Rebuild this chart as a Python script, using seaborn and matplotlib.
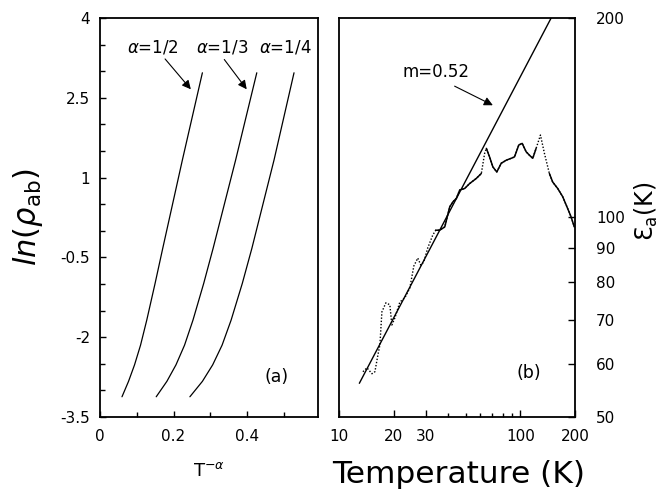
import numpy as np
import pandas as pd
import matplotlib
matplotlib.use("Agg")
import matplotlib.pyplot as plt
import matplotlib.ticker as mticker
import seaborn as sns

# ln(rho_ab) against temperature; the same curve is drawn against T^-alpha
temp_rho = [12.90, 19.93, 34.36, 44.6, 61.9, 82.3, 113.4, 166.2, 280.0]
ln_rho = [2.97, 1.33, -0.33, -0.99, -1.68, -2.15, -2.52, -2.83, -3.12]
alphas = [1 / 2, 1 / 3, 1 / 4]
alpha_labels = [r"$\alpha$=1/2", r"$\alpha$=1/3", r"$\alpha$=1/4"]

# activation energy eps_a(T)
temp_eps = [13.50, 14.21, 15.14, 15.72, 16.33, 16.75, 17.18, 18.07, 19.01, 19.50,
            20.26, 21.58, 22.99, 24.50, 25.77, 27.11, 28.16, 29.25, 30.77, 32.80,
            34.07, 35.8, 38.2, 40.7, 42.4, 44.3, 46.2, 49.2, 52.4, 57.0,
            60.8, 63.4, 64.8, 67.5, 70.4, 74.0, 78.3, 83.5, 88.9, 92.7,
            97.9, 102.2, 107.5, 112.1, 116.9, 122.0, 128.9, 135.6, 144.4, 150.6,
            160.5, 171.0, 182.1, 190.1, 198.2]
eps_a = [58.5, 59.3, 58.1, 58.5, 62.0, 64.2, 72.0, 74.3, 73.8, 68.8,
         70.5, 74.5, 75.6, 78.2, 84.4, 86.8, 84.7, 85.6, 89.9, 94.0,
         95.6, 95.6, 96.7, 103.7, 105.5, 106.8, 109.9, 110.5, 112.4, 114.4,
         116.4, 124.8, 127.0, 123.3, 119.1, 117.0, 120.6, 121.9, 122.7, 123.3,
         128.5, 129.2, 125.5, 124.0, 122.7, 127.0, 133.0, 124.8, 116.4, 113.0,
         110.5, 107.4, 103.1, 100.2, 96.7]

# power-law fit eps_a ~ T^m
slope_m = 0.52
fit_temp = [12.9, 150.0]
fit_eps_start = 56.2

left_xticks = [0, 0.2, 0.4]
left_xtick_labels = ["0", "0.2", "0.4"]
left_yticks = [4, 2.5, 1, -0.5, -2, -3.5]
left_ytick_labels = ["4", "2.5", "1", "-0.5", "-2", "-3.5"]
right_xticks = [10, 20, 30, 100, 200]
right_xtick_labels = ["10", "20", "30", "100", "200"]
right_xminor = [40, 50, 60, 70, 80, 90]
right_yticks = [50, 60, 70, 80, 90, 100, 200]
right_ytick_labels = ["50", "60", "70", "80", "90", "100", "200"]

sns.set_style("ticks")
plt.rcParams["font.family"] = ["DejaVu Sans"]
plt.rcParams["axes.unicode_minus"] = False
plt.rcParams["mathtext.fontset"] = "dejavusans"
for key in ("text.color", "axes.labelcolor", "xtick.color", "ytick.color",
            "xtick.labelcolor", "ytick.labelcolor"):
    plt.rcParams[key] = "black"

fig = plt.figure(figsize=(6.69, 4.93), dpi=100)
fig.patch.set_facecolor("white")
ax1 = fig.add_axes([0.1495, 0.1542, 0.3259, 0.8093])
ax2 = fig.add_axes([0.5072, 0.1542, 0.3523, 0.8103])

for ax in (ax1, ax2):
    for s in ax.spines.values():
        s.set_linewidth(1.3)
        s.set_color("black")
        s.set_visible(True)

# ---- panel (a) ----
rho_df = pd.DataFrame({"T": temp_rho, "lnrho": ln_rho})
for a in alphas:
    d = rho_df.assign(x=rho_df["T"] ** (-a))
    sns.lineplot(data=d, x="x", y="lnrho", ax=ax1, sort=False, estimator=None,
                 color="black", lw=0.9)

ax1.set_xlim(0, 0.593)
ax1.set_ylim(-3.5, 4)
ax1.xaxis.set_major_locator(mticker.FixedLocator(left_xticks))
ax1.xaxis.set_major_formatter(mticker.FixedFormatter(left_xtick_labels))
ax1.xaxis.set_minor_locator(mticker.FixedLocator([0.1, 0.3, 0.5]))
ax1.yaxis.set_major_locator(mticker.FixedLocator(left_yticks))
ax1.yaxis.set_major_formatter(mticker.FixedFormatter(left_ytick_labels))
ax1.yaxis.set_minor_locator(mticker.FixedLocator(np.arange(-3.0, 4.0, 0.5)))
ax1.tick_params(which="both", direction="in", top=False, right=False,
                width=1.0, labelsize=11, colors="black")
ax1.tick_params(which="major", length=4.5)
ax1.tick_params(which="minor", length=3.5)
ax1.tick_params(axis="x", pad=9)
ax1.tick_params(axis="y", pad=7)

ax1.set_xlabel(r"T$^{-\alpha}$", fontsize=13)
ax1.xaxis.set_label_coords(0.5, -0.135)
ax1.xaxis.label.set_va("center")
ax1.set_ylabel(r"$\mathit{ln}(\rho_{\rm ab})$", fontsize=22)
ax1.yaxis.set_label_coords(-0.33, 0.5)
ax1.yaxis.label.set_va("center")

ax1.text(0.144, 3.44, alpha_labels[0], fontsize=12, ha="center", va="center")
ax1.text(0.331, 3.44, alpha_labels[1], fontsize=12, ha="center", va="center")
ax1.text(0.503, 3.44, alpha_labels[2], fontsize=12, ha="center", va="center")
arrow_kw = dict(arrowstyle="-|>", color="black", lw=0.8, mutation_scale=13,
                shrinkA=0, shrinkB=0)
ax1.annotate("", xy=(0.247, 2.66), xytext=(0.177, 3.23), arrowprops=arrow_kw)
ax1.annotate("", xy=(0.399, 2.66), xytext=(0.338, 3.22), arrowprops=arrow_kw)
ax1.text(0.481, -2.74, "(a)", fontsize=12.5, ha="center", va="center")

# ---- panel (b) ----
eps_df = pd.DataFrame({"T": temp_eps, "eps": eps_a})
sns.lineplot(data=eps_df, x="T", y="eps", ax=ax2, sort=False, estimator=None,
             color="black", lw=1.0, linestyle=(0, (1, 1.3)))
solid_mask = ((eps_df["T"] >= 34) & (eps_df["T"] <= 61)) | \
             ((eps_df["T"] >= 64.8) & (eps_df["T"] <= 122)) | \
             (eps_df["T"] >= 144)
groups = (solid_mask != solid_mask.shift()).cumsum()
for _, g in eps_df[solid_mask].groupby(groups[solid_mask]):
    sns.lineplot(data=g, x="T", y="eps", ax=ax2, sort=False, estimator=None,
                 color="black", lw=1.1)

fit_df = pd.DataFrame({"T": fit_temp})
fit_df["eps"] = fit_eps_start * (fit_df["T"] / fit_temp[0]) ** slope_m
sns.lineplot(data=fit_df, x="T", y="eps", ax=ax2, sort=False, estimator=None,
             color="black", lw=1.0)

ax2.set_xscale("log")
ax2.set_yscale("log")
ax2.set_xlim(10, 200)
ax2.set_ylim(50, 200)
ax2.xaxis.set_major_locator(mticker.FixedLocator(right_xticks))
ax2.xaxis.set_major_formatter(mticker.FixedFormatter(right_xtick_labels))
ax2.xaxis.set_minor_locator(mticker.FixedLocator(right_xminor))
ax2.xaxis.set_minor_formatter(mticker.NullFormatter())
ax2.yaxis.tick_right()
ax2.yaxis.set_major_locator(mticker.FixedLocator(right_yticks))
ax2.yaxis.set_major_formatter(mticker.FixedFormatter(right_ytick_labels))
ax2.yaxis.set_minor_locator(mticker.NullLocator())
ax2.tick_params(which="both", direction="in", top=False, left=False,
                width=1.0, labelsize=11, colors="black")
ax2.tick_params(which="major", length=5)
ax2.tick_params(which="minor", length=3)
ax2.tick_params(axis="x", pad=9)
ax2.tick_params(axis="y", pad=15)

ax2.set_xlabel("Temperature (K)", fontsize=22.5)
ax2.xaxis.set_label_coords(0.505, -0.145)
ax2.xaxis.label.set_va("center")
ax2.yaxis.set_label_position("right")
ax2.set_ylabel("Ɛ$_{\\rm a}$(K)", fontsize=17, rotation=90)
ax2.yaxis.set_label_coords(1.305, 0.515)
ax2.yaxis.label.set_va("center")

ax2.text(34.0, 165.6, f"m={slope_m}", fontsize=12, ha="center", va="center")
ax2.annotate("", xy=(70.4, 147.5), xytext=(43.3, 157.6), arrowprops=arrow_kw)
ax2.text(111.1, 58.2, "(b)", fontsize=12.5, ha="center", va="center")

fig.savefig("out.png", dpi=100, facecolor="white")
